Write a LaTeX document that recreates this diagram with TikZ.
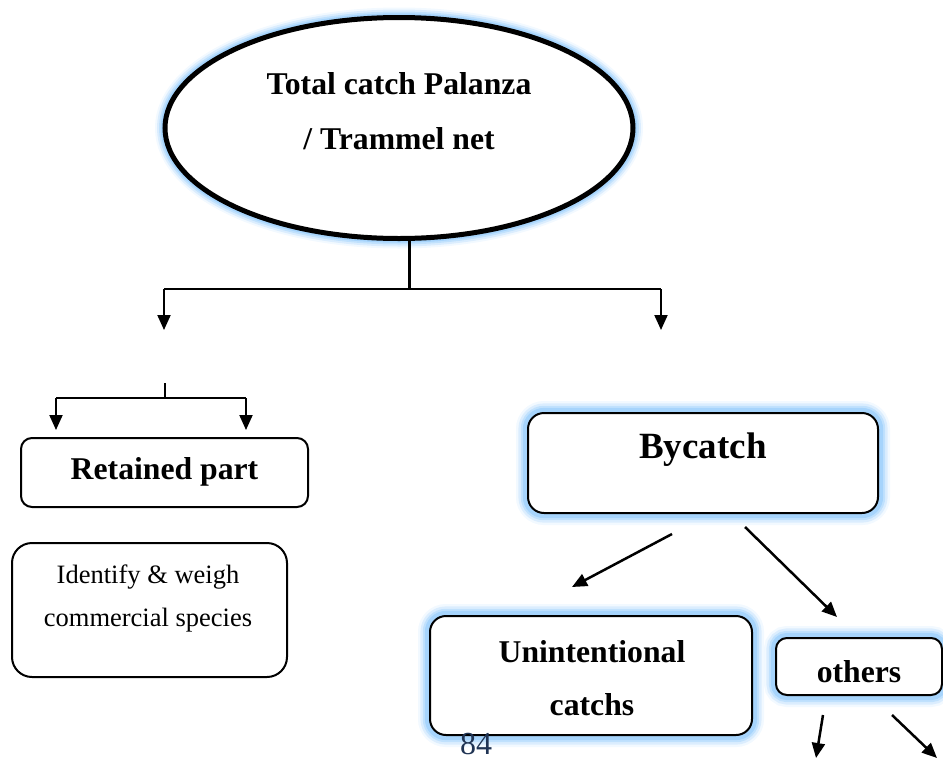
\documentclass[tikz,border=0pt]{standalone}
\usepackage{fontspec}
\setmainfont{Liberation Serif}
\usetikzlibrary{arrows.meta,shapes.geometric}
\definecolor{glowblue}{RGB}{166,212,252}
\definecolor{pagenum}{RGB}{32,52,84}
\tikzset{
  halo/.style={
    preaction={draw=glowblue,line width=#1*2,draw opacity=0.15},
    preaction={draw=glowblue,line width=#1*1.6,draw opacity=0.3},
    preaction={draw=glowblue,line width=#1*1.2,draw opacity=0.5},
    preaction={draw=glowblue,line width=#1*0.85}},
  halo/.default=12pt,
  card/.style={draw=black,line width=2pt,fill=white,rounded corners=#1,inner sep=0pt},
  card/.default=12pt,
  headfont/.style={font=\fontsize{31.7pt}{55pt}\selectfont\bfseries,align=center,inner sep=0pt},
  bodyfont/.style={font=\fontsize{26.5pt}{43pt}\selectfont,align=center,inner sep=0pt},
  wire/.style={line width=2pt},
  arr/.style={line width=2pt,-{Triangle[width=13pt,length=15pt]}},
}
\begin{document}
\begin{tikzpicture}[x=1pt,y=-1pt]
\useasboundingbox (0,0) rectangle (943,758);

% top ellipse
\node[ellipse,draw=black,line width=5pt,fill=white,halo=10pt,
      minimum width=468pt,minimum height=221pt,inner sep=0pt] (total) at (399,128) {};
\node[headfont] (totaltxt) at (399,111) {Total catch Palanza\\/ Trammel net};

% first split
\coordinate (j0) at (409,289);
\coordinate (jl) at (164,289);
\coordinate (jr) at (661,289);
\coordinate (dl) at (164,330);
\coordinate (dr) at (661,330);
\draw[line width=3pt] (j0 |- total.south) -- (j0);
\draw[wire] (jl) -- (jr);
\draw[arr] (jl) -- (dl);
\draw[arr] (jr) -- (dr);

% retained branch
\coordinate (t0) at (165,383);
\coordinate (t1) at (165,398);
\coordinate (tl) at (56,398);
\coordinate (tr) at (246,398);
\coordinate (tld) at (56,430);
\coordinate (trd) at (246,430);
\draw[wire] (t0) -- (t1);
\draw[wire] (tl) -- (tr);
\draw[arr] (tl) -- (tld);
\draw[arr] (tr) -- (trd);

\node[card=11pt,minimum width=287pt,minimum height=69pt] (retained) at (164.5,472.5) {};
\node[headfont] (retainedtxt) at (164.5,472) {Retained part};

\node[card=20pt,minimum width=275pt,minimum height=134pt] (identify) at (149.5,610) {};
\node[bodyfont] (identifytxt) at (148,598) {Identify \& weigh\\commercial species};

% bycatch branch
\node[card=16pt,halo,minimum width=350pt,minimum height=100pt] (bycatch) at (703,463) {};
\node[font=\fontsize{37pt}{44pt}\selectfont\bfseries,inner sep=0pt] (bycatchtxt) at (703,450) {Bycatch};

\node[card=16pt,halo,minimum width=322pt,minimum height=119pt] (unint) at (591,675.5) {};
\node[headfont,font=\fontsize{31.7pt}{53pt}\selectfont\bfseries] (uninttxt) at (592,678) {Unintentional\\catchs};

\node[card=11pt,halo,minimum width=166pt,minimum height=57pt] (others) at (859,666.5) {};
\node[headfont] (otherstxt) at (859,672) {others};

\coordinate (b1s) at (672,534);
\coordinate (b1e) at (572,587);
\coordinate (b2s) at (745,527);
\coordinate (b2e) at (837,617);
\draw[arr,line width=2.5pt] (b1s) -- (b1e);
\draw[arr,line width=2.5pt] (b2s) -- (b2e);

\coordinate (o1s) at (823,715);
\coordinate (o1e) at (816,758);
\coordinate (o2s) at (892,715);
\coordinate (o2e) at (937,758);
\draw[arr,line width=2.5pt] (o1s) -- (o1e);
\draw[arr,line width=2.5pt] (o2s) -- (o2e);

% page number
\node[font=\fontsize{32pt}{38pt}\selectfont,text=pagenum,inner sep=0pt,anchor=north] (pageno) at (476,733) {84};
\end{tikzpicture}
\end{document}
